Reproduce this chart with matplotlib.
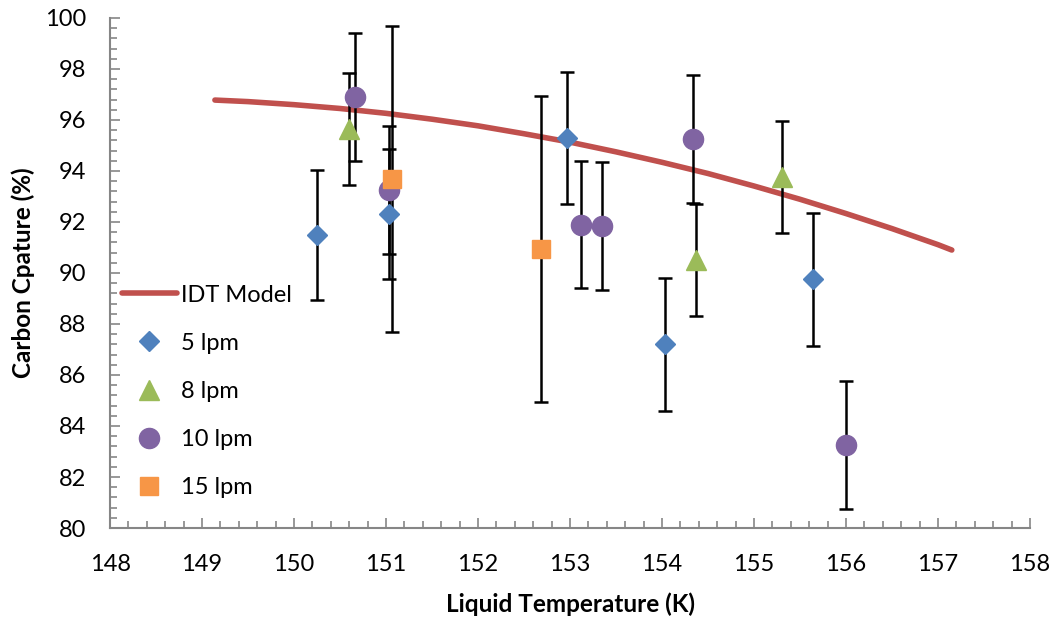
import numpy as np
import matplotlib.pyplot as plt
from matplotlib.ticker import MultipleLocator

plt.rcParams['font.family'] = ['Lato', 'DejaVu Sans']

# IDT model curve
model_t = [149.14, 149.5, 150.0, 150.5, 151.0, 151.5, 152.0, 152.5, 153.0,
           153.5, 154.0, 154.5, 155.0, 155.5, 156.0, 156.5, 157.0, 157.15]
model_c = [96.78, 96.72, 96.60, 96.45, 96.26, 96.03, 95.77, 95.46, 95.13,
           94.75, 94.34, 93.90, 93.41, 92.89, 92.33, 91.74, 91.11, 90.90]

# measurements
t_5 = [150.25, 151.03, 152.97, 154.03, 155.64]
c_5 = [91.5, 92.3, 95.3, 87.2, 89.75]
e_5 = [2.55, 2.55, 2.6, 2.6, 2.6]

t_8 = [150.60, 154.37, 155.30]
c_8 = [95.65, 90.5, 93.75]
e_8 = [2.2, 2.2, 2.2]

t_10 = [150.66, 151.03, 153.12, 153.35, 154.34, 156.0]
c_10 = [96.9, 93.25, 91.9, 91.85, 95.25, 83.25]
e_10 = [2.5, 2.5, 2.5, 2.5, 2.5, 2.5]

t_15 = [151.06, 152.68]
c_15 = [93.7, 90.95]
e_15 = [6.0, 6.0]

fig = plt.figure(figsize=(10.6, 6.19), dpi=100)
ax = fig.add_axes([0.1038, 0.147, 0.8679, 0.824])

ax.plot(model_t, model_c, color='#C0504D', lw=4, solid_capstyle='round',
        label='IDT Model', zorder=2)

err_kw = dict(ecolor='black', elinewidth=1.8, capsize=5, capthick=1.8, linestyle='none')
series = [
    (t_5, c_5, e_5, 'D', 10, '#4F81BD', '5 lpm'),
    (t_8, c_8, e_8, '^', 14, '#9BBB59', '8 lpm'),
    (t_10, c_10, e_10, 'o', 14.5, '#8064A2', '10 lpm'),
    (t_15, c_15, e_15, 's', 13.5, '#F79646', '15 lpm'),
]
for t, c, e, mk, ms, col, lab in series:
    ax.errorbar(t, c, yerr=e, fmt='none', zorder=3, **err_kw)
    ax.plot(t, c, linestyle='none', marker=mk, markersize=ms, color=col,
            markeredgecolor=col, label=lab, zorder=4)

ax.set_xlim(148, 158)
ax.set_ylim(80, 100)
ax.xaxis.set_major_locator(MultipleLocator(1))
ax.xaxis.set_minor_locator(MultipleLocator(0.2))
ax.yaxis.set_major_locator(MultipleLocator(2))
ax.yaxis.set_minor_locator(MultipleLocator(0.4))

for s in ['top', 'right']:
    ax.spines[s].set_visible(False)
for s in ['left', 'bottom']:
    ax.spines[s].set_color('#868686')
    ax.spines[s].set_linewidth(1.5)

ax.tick_params(which='both', direction='in', color='#868686', width=1.2)
ax.tick_params(which='major', length=7, labelsize=17)
ax.tick_params(which='minor', length=5)
ax.tick_params(axis='x', which='major', pad=19)
ax.tick_params(axis='y', which='major', pad=17)

ax.set_xlabel('Liquid Temperature (K)', fontsize=17.5, fontweight='bold', labelpad=12)
ax.set_ylabel('Carbon Cpature (%)', fontsize=17.5, fontweight='bold', labelpad=7)

ax.legend(loc='center left', bbox_to_anchor=(0.0127, 0.268), frameon=False,
          fontsize=17, borderaxespad=0, borderpad=0, handlelength=2.33,
          handletextpad=0.17, labelspacing=1.15, numpoints=1)

fig.savefig('out.png', dpi=100)
